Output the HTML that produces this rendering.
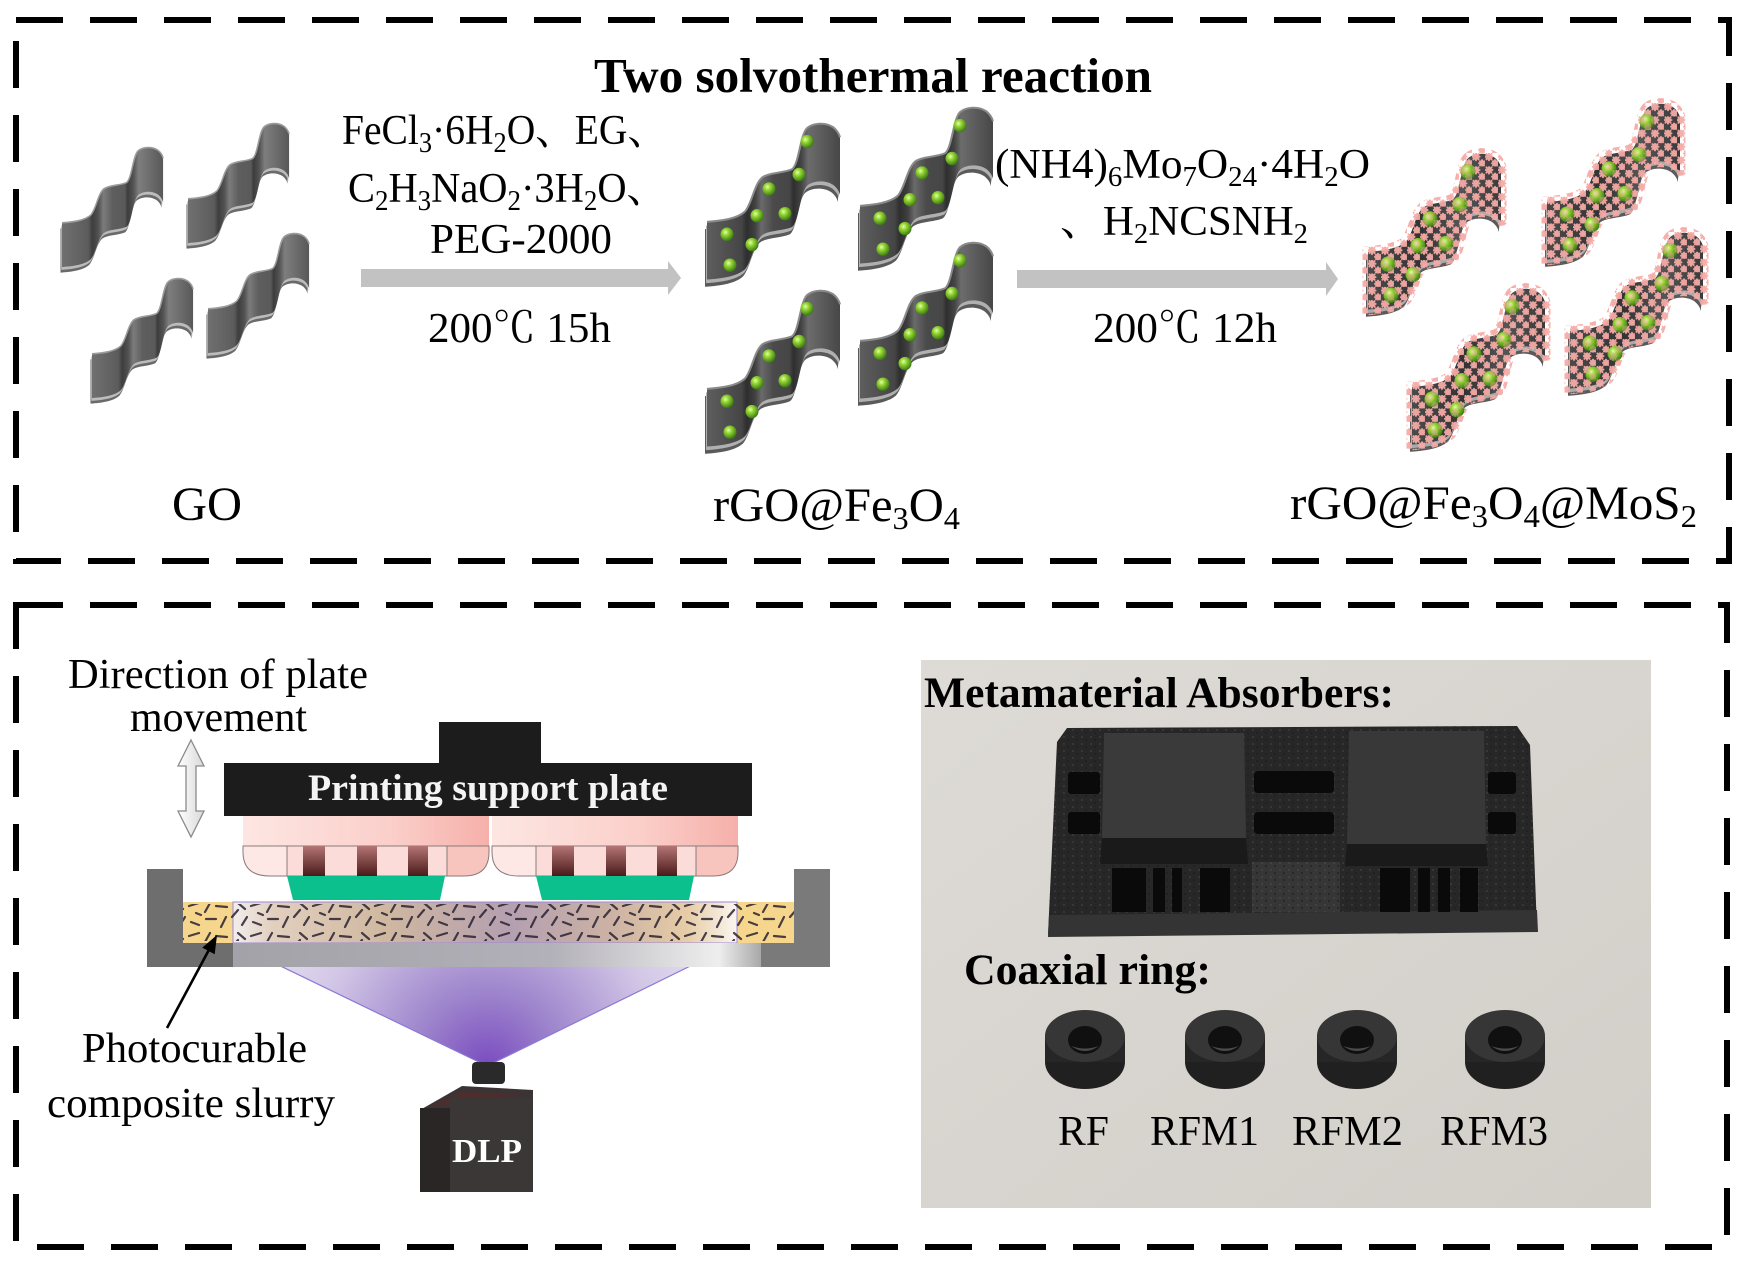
<!DOCTYPE html>
<html>
<head>
<meta charset="utf-8">
<style>
html,body{margin:0;padding:0;background:#fff;}
body{width:1742px;height:1264px;overflow:hidden;}
svg{display:block;}
</style>
</head>
<body>
<svg width="1742" height="1264" viewBox="0 0 1742 1264" xmlns="http://www.w3.org/2000/svg" xmlns:xlink="http://www.w3.org/1999/xlink" font-family="'Liberation Serif','Noto Serif CJK SC',serif">
<defs>
  <!-- wavy staircase sheet shape (local ~133x152) -->
  <path id="sh" d="M0,96 C15,95 30,93 38,86 C45,78 47,60 55,53 C62,48 75,49 85,45 C92,40 93,12 100,5 C106,0 118,-1 126,4 C130,7 132,10 133,14 L133,70 C132,66 130,63 126,60 C118,55 106,56 100,61 C93,68 92,96 85,101 C75,105 62,104 55,109 C47,116 45,134 38,142 C30,149 15,151 0,152 Z"/>
  <path id="shTop" d="M0,96 C15,95 30,93 38,86 C45,78 47,60 55,53 C62,48 75,49 85,45 C92,40 93,12 100,5 C106,0 118,-1 126,4 C130,7 132,10 133,14"/>

  <linearGradient id="gGO" x1="0" y1="0" x2="1" y2="0">
    <stop offset="0" stop-color="#707070"/>
    <stop offset="0.26" stop-color="#5c5c5c"/>
    <stop offset="0.30" stop-color="#3e3e3e"/>
    <stop offset="0.36" stop-color="#525252"/>
    <stop offset="0.41" stop-color="#7c7c7c"/>
    <stop offset="0.50" stop-color="#5e5e5e"/>
    <stop offset="0.62" stop-color="#5a5a5a"/>
    <stop offset="0.65" stop-color="#3c3c3c"/>
    <stop offset="0.71" stop-color="#565656"/>
    <stop offset="0.76" stop-color="#7e7e7e"/>
    <stop offset="1" stop-color="#585858"/>
  </linearGradient>
  <linearGradient id="gR" x1="0" y1="0" x2="1" y2="0">
    <stop offset="0" stop-color="#5e5e5e"/>
    <stop offset="0.26" stop-color="#454545"/>
    <stop offset="0.30" stop-color="#2e2e2e"/>
    <stop offset="0.36" stop-color="#404040"/>
    <stop offset="0.41" stop-color="#6a6a6a"/>
    <stop offset="0.50" stop-color="#4a4a4a"/>
    <stop offset="0.62" stop-color="#464646"/>
    <stop offset="0.65" stop-color="#2e2e2e"/>
    <stop offset="0.71" stop-color="#444"/>
    <stop offset="0.76" stop-color="#6c6c6c"/>
    <stop offset="1" stop-color="#474747"/>
  </linearGradient>
  <linearGradient id="gM" x1="0" y1="0" x2="1" y2="0">
    <stop offset="0" stop-color="#4a4a4a"/>
    <stop offset="0.4" stop-color="#333"/>
    <stop offset="0.7" stop-color="#555"/>
    <stop offset="1" stop-color="#3a3a3a"/>
  </linearGradient>
  <radialGradient id="ball" cx="0.38" cy="0.35" r="0.65">
    <stop offset="0" stop-color="#e6ffb0"/>
    <stop offset="0.35" stop-color="#98d836"/>
    <stop offset="1" stop-color="#3d7e12"/>
  </radialGradient>

  <g id="balls" fill="url(#ball)">
    <circle cx="100" cy="18" r="6.5"/>
    <circle cx="92" cy="50" r="6.5"/>
    <circle cx="62" cy="64" r="6.5"/>
    <circle cx="50" cy="90" r="6.5"/>
    <circle cx="78" cy="88" r="6.5"/>
    <circle cx="20" cy="108" r="6.5"/>
    <circle cx="45" cy="118" r="6.5"/>
    <circle cx="23" cy="138" r="6.5"/>
  </g>
  <g id="ballsM" fill="url(#ball)">
    <circle cx="100" cy="18" r="7.5"/>
    <circle cx="92" cy="50" r="7.5"/>
    <circle cx="62" cy="64" r="7.5"/>
    <circle cx="50" cy="90" r="7.5"/>
    <circle cx="78" cy="88" r="7.5"/>
    <circle cx="20" cy="108" r="7.5"/>
    <circle cx="45" cy="118" r="7.5"/>
    <circle cx="23" cy="138" r="7.5"/>
  </g>

  <pattern id="flow" width="13" height="13" patternUnits="userSpaceOnUse">
    <g stroke="#f6aaa6" stroke-width="2" stroke-linecap="round" fill="none">
      <path d="M0.5,3.5 L7.5,3.5 M4,0 L4,7 M1.5,1 L6.5,6 M6.5,1 L1.5,6"/>
      <path d="M7,10 L13,10 M10,7 L10,13 M8,8 L12,12 M12,8 L8,12"/>
    </g>
  </pattern>

  <g id="goSheet">
    <use xlink:href="#sh" transform="translate(-2,7)" fill="#6a6a6a"/>
    <use xlink:href="#sh" transform="translate(-1,3.5)" fill="#bcbcbc"/>
    <use xlink:href="#sh" fill="url(#gGO)"/>
    <use xlink:href="#shTop" fill="none" stroke="#9c9c9c" stroke-width="2"/>
  </g>
  <g id="rSheet">
    <use xlink:href="#sh" transform="translate(-2,7)" fill="#5a5a5a"/>
    <use xlink:href="#sh" transform="translate(-1,3.5)" fill="#b0b0b0"/>
    <use xlink:href="#sh" fill="url(#gR)"/>
    <use xlink:href="#shTop" fill="none" stroke="#8a8a8a" stroke-width="2"/>
    <use xlink:href="#balls"/>
  </g>
  <g id="mSheet">
    <use xlink:href="#sh" transform="translate(-2,7)" fill="#5a5a5a"/>
    <use xlink:href="#sh" transform="translate(-1,3.5)" fill="#aaaaaa"/>
    <use xlink:href="#sh" fill="url(#gM)"/>
    <use xlink:href="#ballsM"/>
    <use xlink:href="#sh" fill="url(#flow)" stroke="url(#flow)" stroke-width="11" opacity="0.95"/>
    <use xlink:href="#ballsM" opacity="0.55"/>
  </g>

  <!-- printer defs -->
  <linearGradient id="pinkTop" x1="0" y1="0" x2="1" y2="0">
    <stop offset="0" stop-color="#fde6e2"/>
    <stop offset="0.6" stop-color="#fbcfca"/>
    <stop offset="1" stop-color="#f6b0aa"/>
  </linearGradient>
  <linearGradient id="bar" x1="0" y1="0" x2="0" y2="1">
    <stop offset="0" stop-color="#b47474"/>
    <stop offset="1" stop-color="#4a1a1a"/>
  </linearGradient>
  <linearGradient id="win" x1="0" y1="0" x2="1" y2="0">
    <stop offset="0" stop-color="#f2eeee"/>
    <stop offset="0.08" stop-color="#e2cfbe"/>
    <stop offset="0.3" stop-color="#d0b8a0"/>
    <stop offset="0.55" stop-color="#b49fb0"/>
    <stop offset="0.75" stop-color="#ccb2a4"/>
    <stop offset="0.9" stop-color="#e6cca6"/>
    <stop offset="1" stop-color="#faf6f0"/>
  </linearGradient>
  <linearGradient id="vatMid" x1="0" y1="0" x2="1" y2="0">
    <stop offset="0" stop-color="#a2a2a8"/>
    <stop offset="0.6" stop-color="#b2b0b8"/>
    <stop offset="0.92" stop-color="#eeeeee"/>
    <stop offset="1" stop-color="#a8a8a8"/>
  </linearGradient>
  <radialGradient id="cone" gradientUnits="userSpaceOnUse" cx="487" cy="1066" r="290">
    <stop offset="0" stop-color="#7a4cc0"/>
    <stop offset="0.25" stop-color="#9d84cc"/>
    <stop offset="0.6" stop-color="#d2c6e6"/>
    <stop offset="1" stop-color="#f2eef8"/>
  </radialGradient>
  <linearGradient id="darrow" x1="0" y1="0" x2="1" y2="0">
    <stop offset="0" stop-color="#ffffff"/>
    <stop offset="1" stop-color="#d8d8d8"/>
  </linearGradient>
  <pattern id="fib" width="62" height="30" patternUnits="userSpaceOnUse">
    <g stroke="#2a2232" stroke-width="2.2" stroke-linecap="round">
      <path d="M3,6 L13,3 M19,12 L24,3 M30,6 L41,7 M46,17 L52,10 M5,22 L13,25 M20,19 L30,19 M35,27 L40,17 M52,3 L59,9 M56,25 L61,17 M10,13 L15,15"/>
    </g>
  </pattern>
  <linearGradient id="photo" x1="0" y1="0" x2="1" y2="1">
    <stop offset="0" stop-color="#dedbd7"/>
    <stop offset="1" stop-color="#d2cec8"/>
  </linearGradient>
  <pattern id="speck" width="9" height="7" patternUnits="userSpaceOnUse">
    <circle cx="2" cy="2" r="1" fill="#4c4c4c"/>
    <circle cx="6" cy="5" r="0.9" fill="#141414"/>
  </pattern>
  <g id="ring">
    <ellipse cx="0" cy="1062" rx="40" ry="27" fill="#202020"/>
    <rect x="-40" y="1036" width="80" height="26" fill="#262626"/>
    <ellipse cx="0" cy="1036" rx="40" ry="26" fill="#363636"/>
    <ellipse cx="0" cy="1040" rx="17" ry="14" fill="#101010"/>
    <path d="M-14,1046 Q0,1056 14,1046 Q0,1051 -14,1046 Z" fill="#4a4a4a"/>
  </g>
</defs>

<rect x="0" y="0" width="1742" height="1264" fill="#ffffff"/>

<!-- dashed borders -->
<rect x="16" y="20" width="1713" height="541" fill="none" stroke="#000" stroke-width="6" stroke-dasharray="47 27"/>
<rect x="16" y="605" width="1711" height="642" fill="none" stroke="#000" stroke-width="6" stroke-dasharray="47 27"/>

<!-- ============ TOP PANEL ============ -->
<text x="594" y="92" font-size="49" font-weight="bold" textLength="558" lengthAdjust="spacingAndGlyphs">Two solvothermal reaction</text>

<!-- GO sheets -->
<use xlink:href="#goSheet" transform="translate(62,147) scale(0.76,0.79)"/>
<use xlink:href="#goSheet" transform="translate(188,123) scale(0.76,0.79)"/>
<use xlink:href="#goSheet" transform="translate(92,278) scale(0.76,0.79)"/>
<use xlink:href="#goSheet" transform="translate(208,233) scale(0.76,0.79)"/>

<!-- reaction 1 text -->
<g font-size="42">
  <text x="342" y="144" textLength="325" lengthAdjust="spacingAndGlyphs">FeCl<tspan dy="8" font-size="28">3</tspan><tspan dy="-8">·6H</tspan><tspan dy="8" font-size="28">2</tspan><tspan dy="-8">O、EG、</tspan></text>
  <text x="348" y="202" textLength="319" lengthAdjust="spacingAndGlyphs">C<tspan dy="8" font-size="28">2</tspan><tspan dy="-8">H</tspan><tspan dy="8" font-size="28">3</tspan><tspan dy="-8">NaO</tspan><tspan dy="8" font-size="28">2</tspan><tspan dy="-8">·3H</tspan><tspan dy="8" font-size="28">2</tspan><tspan dy="-8">O、</tspan></text>
  <text x="430" y="253" textLength="182" lengthAdjust="spacingAndGlyphs">PEG-2000</text>
  <text x="428" y="342" textLength="183" lengthAdjust="spacingAndGlyphs">200℃ 15h</text>
</g>
<!-- arrow 1 -->
<rect x="361" y="269" width="309" height="18" fill="#c2c2c2"/>
<polygon points="668,261 681,278 668,295" fill="#c2c2c2"/>

<!-- rGO@Fe3O4 sheets -->
<use xlink:href="#rSheet" transform="translate(707,123) scale(1,1.03)"/>
<use xlink:href="#rSheet" transform="translate(860,107) scale(1,1.03)"/>
<use xlink:href="#rSheet" transform="translate(707,290) scale(1,1.03)"/>
<use xlink:href="#rSheet" transform="translate(860,242) scale(1,1.03)"/>

<!-- reaction 2 text -->
<g font-size="42">
  <text x="995" y="178" textLength="375" lengthAdjust="spacingAndGlyphs">(NH4)<tspan dy="8" font-size="28">6</tspan><tspan dy="-8">Mo</tspan><tspan dy="8" font-size="28">7</tspan><tspan dy="-8">O</tspan><tspan dy="8" font-size="28">24</tspan><tspan dy="-8">·4H</tspan><tspan dy="8" font-size="28">2</tspan><tspan dy="-8">O</tspan></text>
  <text x="1060" y="235" textLength="248" lengthAdjust="spacingAndGlyphs">、H<tspan dy="8" font-size="28">2</tspan><tspan dy="-8">NCSNH</tspan><tspan dy="8" font-size="28">2</tspan></text>
  <text x="1093" y="342" textLength="184" lengthAdjust="spacingAndGlyphs">200℃ 12h</text>
</g>
<!-- arrow 2 -->
<rect x="1017" y="270" width="311" height="18" fill="#c2c2c2"/>
<polygon points="1326,262 1338,279 1326,296" fill="#c2c2c2"/>

<!-- MoS2 sheets -->
<use xlink:href="#mSheet" transform="translate(1368,153) scale(1,1.03)"/>
<use xlink:href="#mSheet" transform="translate(1547,103) scale(1,1.03)"/>
<use xlink:href="#mSheet" transform="translate(1412,288) scale(1,1.03)"/>
<use xlink:href="#mSheet" transform="translate(1570,232) scale(1,1.03)"/>

<!-- labels -->
<g font-size="48">
  <text x="172" y="520" textLength="70" lengthAdjust="spacingAndGlyphs">GO</text>
  <text x="713" y="521" textLength="247" lengthAdjust="spacingAndGlyphs">rGO@Fe<tspan dy="8" font-size="32">3</tspan><tspan dy="-8">O</tspan><tspan dy="8" font-size="32">4</tspan></text>
  <text x="1290" y="519" textLength="407" lengthAdjust="spacingAndGlyphs">rGO@Fe<tspan dy="8" font-size="32">3</tspan><tspan dy="-8">O</tspan><tspan dy="8" font-size="32">4</tspan><tspan dy="-8">@MoS</tspan><tspan dy="8" font-size="32">2</tspan></text>
</g>

<!-- ============ BOTTOM LEFT: DLP printer ============ -->
<g font-size="42">
  <text x="68" y="688" textLength="300" lengthAdjust="spacingAndGlyphs">Direction of plate</text>
  <text x="130" y="731" textLength="177" lengthAdjust="spacingAndGlyphs">movement</text>
  <text x="82" y="1062" textLength="225" lengthAdjust="spacingAndGlyphs">Photocurable</text>
  <text x="47" y="1117" textLength="288" lengthAdjust="spacingAndGlyphs">composite slurry</text>
</g>

<!-- double arrow -->
<polygon points="191,740 204,766 196,766 196,811 204,811 191,837 178,811 186,811 186,766 178,766" fill="url(#darrow)" stroke="#8a8a8a" stroke-width="1.3"/>

<!-- light cone -->
<polygon points="283,967 687,967 487,1066" fill="url(#cone)"/>
<line x1="233" y1="943" x2="487" y2="1066" stroke="#8a7ad6" stroke-width="1.2"/>
<line x1="737" y1="943" x2="487" y2="1066" stroke="#8a7ad6" stroke-width="1.2"/>

<!-- support plate -->
<rect x="439" y="722" width="102" height="42" fill="#1c1c1c"/>
<rect x="224" y="763" width="528" height="53" fill="#1c1c1c"/>
<text x="308" y="800" font-size="37" font-weight="bold" fill="#f4f4f4" textLength="360" lengthAdjust="spacingAndGlyphs">Printing support plate</text>

<!-- pink blocks -->
<g id="pblock">
  <rect x="243" y="816" width="246" height="30" fill="url(#pinkTop)"/>
  <path d="M243,846 L287,846 L287,876 L270,876 Q243,876 243,852 Z" fill="#fde8e6" stroke="#8a7a7a" stroke-width="1"/>
  <path d="M447,846 L489,846 L489,852 Q489,876 464,876 L447,876 Z" fill="#f8c4be" stroke="#8a7a7a" stroke-width="1"/>
  <rect x="287" y="846" width="160" height="30" fill="#fcdcd8" stroke="#8a7a7a" stroke-width="1"/>
  <rect x="303" y="846" width="22" height="30" fill="url(#bar)"/>
  <rect x="357" y="846" width="20" height="30" fill="url(#bar)"/>
  <rect x="408" y="846" width="20" height="30" fill="url(#bar)"/>
  <polygon points="287,876 445,876 440,900 293,900" fill="#0cc08e"/>
</g>
<use xlink:href="#pblock" transform="translate(249,0)"/>

<!-- slurry -->
<rect x="183" y="902" width="50" height="41" fill="#f6d68c"/>
<rect x="737" y="902" width="57" height="41" fill="#f6d68c"/>
<rect x="233" y="902" width="504" height="41" fill="url(#win)" stroke="#9a8ad8" stroke-width="1"/>
<rect x="183" y="904" width="611" height="37" fill="url(#fib)" opacity="0.85"/>

<!-- vat -->
<rect x="147" y="869" width="36" height="98" fill="#6e6e6e"/>
<rect x="147" y="943" width="86" height="24" fill="#6e6e6e"/>
<rect x="233" y="943" width="528" height="24" fill="url(#vatMid)"/>
<rect x="761" y="943" width="69" height="24" fill="#7a7a7a"/>
<rect x="794" y="869" width="36" height="98" fill="#7a7a7a"/>

<!-- pointer arrow -->
<line x1="167" y1="1028" x2="211" y2="946" stroke="#000" stroke-width="2.6"/>
<polygon points="217,935 214.7,954.2 202.3,947.6" fill="#000"/>

<!-- DLP projector -->
<rect x="472" y="1062" width="33" height="22" rx="4" fill="#2a2a2a"/>
<polygon points="420,1110 462,1086 533,1090 533,1100 452,1112" fill="#3c3434"/>
<polygon points="430,1106 462,1092 520,1094 455,1106" fill="#5a2a2a" opacity="0.6"/>
<rect x="420" y="1108" width="32" height="84" fill="#2a2626"/>
<rect x="450" y="1098" width="83" height="94" fill="#3b3737"/>
<text x="452" y="1162" font-size="34" font-weight="bold" fill="#ffffff" textLength="70" lengthAdjust="spacingAndGlyphs">DLP</text>

<!-- ============ BOTTOM RIGHT: photo ============ -->
<rect x="921" y="660" width="730" height="548" fill="url(#photo)"/>
<text x="924" y="707" font-size="43" font-weight="bold" textLength="470" lengthAdjust="spacingAndGlyphs">Metamaterial Absorbers:</text>

<!-- absorber -->
<polygon points="1057,742 1067,728 1517,726 1530,745 1537,930 1048,935" fill="#272727"/>
<polygon points="1057,742 1067,728 1517,726 1530,745 1537,930 1048,935" fill="url(#speck)" opacity="0.55"/>
<polygon points="1049,915 1537,910 1538,932 1048,937" fill="#343434"/>
<!-- holes -->
<g fill="#0a0a0a">
  <rect x="1254" y="771" width="80" height="22" rx="4"/>
  <rect x="1254" y="812" width="80" height="22" rx="4"/>
  <rect x="1068" y="772" width="32" height="22" rx="3"/>
  <rect x="1068" y="812" width="32" height="22" rx="3"/>
  <rect x="1488" y="772" width="28" height="22" rx="3"/>
  <rect x="1488" y="812" width="28" height="22" rx="3"/>
  <rect x="1112" y="868" width="34" height="44"/>
  <rect x="1153" y="868" width="12" height="44"/>
  <rect x="1172" y="868" width="10" height="44"/>
  <rect x="1200" y="868" width="30" height="44"/>
  <rect x="1380" y="868" width="30" height="44"/>
  <rect x="1418" y="868" width="12" height="44"/>
  <rect x="1438" y="868" width="12" height="44"/>
  <rect x="1460" y="868" width="18" height="44"/>
</g>
<rect x="1252" y="862" width="88" height="50" fill="#363636"/>
<rect x="1252" y="862" width="88" height="50" fill="url(#speck)" opacity="0.7"/>
<!-- raised squares -->
<polygon points="1104,733 1244,733 1246,838 1102,838" fill="#3a3a3a"/>
<polygon points="1102,838 1246,838 1248,864 1100,864" fill="#1a1a1a"/>
<polygon points="1349,731 1484,731 1486,844 1347,844" fill="#383838"/>
<polygon points="1347,844 1486,844 1488,866 1345,866" fill="#1a1a1a"/>

<text x="964" y="984" font-size="43" font-weight="bold" textLength="247" lengthAdjust="spacingAndGlyphs">Coaxial ring:</text>

<!-- rings -->
<use xlink:href="#ring" transform="translate(1085,0)"/>
<use xlink:href="#ring" transform="translate(1225,0)"/>
<use xlink:href="#ring" transform="translate(1357,0)"/>
<use xlink:href="#ring" transform="translate(1505,0)"/>

<g font-size="42">
  <text x="1058" y="1145" textLength="51" lengthAdjust="spacingAndGlyphs">RF</text>
  <text x="1150" y="1145" textLength="109" lengthAdjust="spacingAndGlyphs">RFM1</text>
  <text x="1292" y="1145" textLength="111" lengthAdjust="spacingAndGlyphs">RFM2</text>
  <text x="1440" y="1145" textLength="108" lengthAdjust="spacingAndGlyphs">RFM3</text>
</g>
</svg>
</body>
</html>
